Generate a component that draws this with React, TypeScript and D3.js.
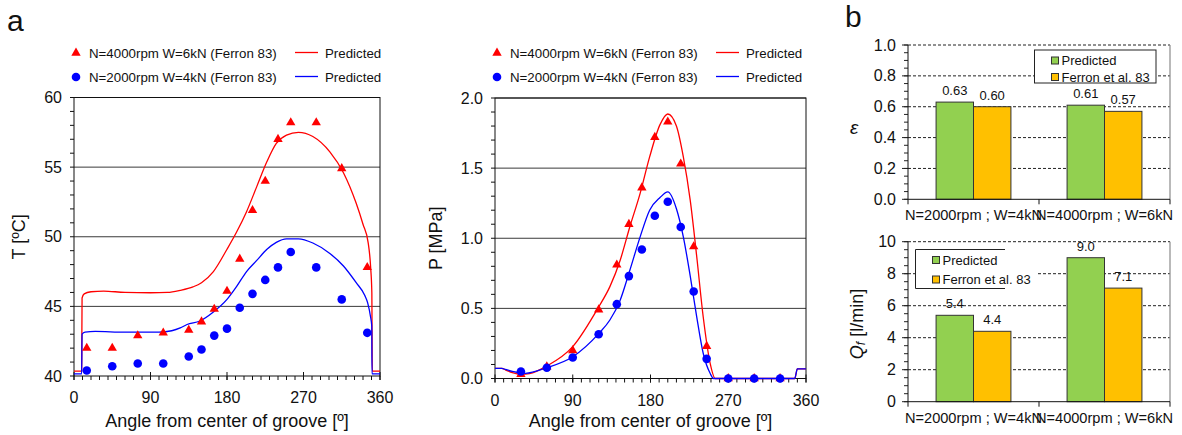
import React from "react";
import * as d3 from "d3";

// ---------- Data: temperature chart ----------
const tAngles = [15, 45, 75, 105, 135, 150, 165, 180, 195, 210, 225, 240, 255, 285, 315, 345];
const tRed = [42.0, 42.0, 42.9, 43.1, 43.3, 43.9, 44.8, 46.1, 48.4, 51.9, 54.0, 57.0, 58.2, 58.2, 54.9, 47.8];
const tBlue = [40.4, 40.7, 40.9, 40.9, 41.4, 41.9, 42.9, 43.4, 44.9, 45.9, 46.9, 47.8, 48.9, 47.8, 45.5, 43.1];

const tPredRedAngle = [0, 9, 9.5, 12, 20, 35, 60, 90, 110, 125, 140, 150, 164, 180, 191, 203, 215, 227, 238, 250, 264, 281, 301, 317, 332, 340, 346, 349, 350.4, 350.9, 360];
const tPredRed = [40.35, 40.35, 45.6, 45.9, 46.05, 46.1, 46.0, 45.98, 46.0, 46.15, 46.4, 46.7, 47.5, 49.1, 50.3, 51.8, 53.6, 55.4, 56.7, 57.3, 57.5, 57.2, 56.1, 54.6, 52.4, 50.9, 49.6, 47.8, 46.0, 40.35, 40.35];

const tPredBlueAngle = [0, 9, 9.5, 13, 25, 60, 100, 115, 125, 133, 148, 164, 180, 191, 203, 215, 227, 238, 250, 264, 281, 301, 317, 332, 342, 345.5, 349, 350.3, 350.6, 360];
const tPredBlue = [40.15, 40.15, 43.0, 43.15, 43.2, 43.15, 43.15, 43.25, 43.45, 43.7, 43.95, 44.6, 45.5, 46.4, 47.5, 48.3, 49.1, 49.6, 49.85, 49.85, 49.55, 48.8, 47.9, 46.7, 45.8, 45.25, 44.2, 43.6, 40.15, 40.15];

// ---------- Data: pressure chart ----------
const pAngles = [30, 60, 90, 120, 141, 155, 170, 185, 200, 215, 230, 245, 270, 300, 330];
const pRed = [0.03, 0.084, 0.2, 0.49, 0.81, 1.1, 1.36, 1.72, 1.83, 1.53, 0.94, 0.23, 0, 0, 0];
const pBlue = [0.05, 0.077, 0.15, 0.315, 0.53, 0.73, 0.92, 1.16, 1.26, 1.08, 0.62, 0.14, 0, 0, 0];

const pPredRedAngle = [0, 8, 12, 20, 30, 40, 60, 90, 120, 133, 145, 156, 168, 179, 191, 200, 210, 218, 226, 233.5, 241, 249, 255, 347, 350, 360];
const pPredRed = [0.072, 0.072, 0.062, 0.042, 0.03, 0.035, 0.089, 0.227, 0.51, 0.655, 0.845, 1.08, 1.32, 1.58, 1.81, 1.886, 1.8, 1.58, 1.27, 0.87, 0.44, 0.11, 0, 0, 0.068, 0.068];

const pPredBlueAngle = [0, 8, 12, 20, 35, 60, 90, 120, 133, 145, 156, 168, 179, 191, 200, 210, 218, 226, 233.5, 241, 249, 253, 347, 350, 360];
const pPredBlue = [0.072, 0.072, 0.065, 0.05, 0.037, 0.077, 0.155, 0.32, 0.417, 0.56, 0.77, 1.01, 1.2, 1.29, 1.33, 1.21, 1.01, 0.73, 0.44, 0.18, 0.037, 0, 0, 0.068, 0.068];

const xTicks = [0, 90, 180, 270, 360];
const tTicks = [40, 45, 50, 55, 60];
const pTicks = [0, 0.5, 1.0, 1.5, 2.0];

// ---------- Data: bar charts ----------
const categories = ["N=2000rpm ; W=4kN", "N=4000rpm ; W=6kN"];
const barSeries = ["Predicted", "Ferron et al. 83"];
const epsPredicted = [0.63, 0.61];
const epsFerron = [0.6, 0.57];
const qPredicted = [5.4, 9.0];
const qFerron = [4.4, 7.1];
const epsTicks = [0, 0.2, 0.4, 0.6, 0.8, 1.0];
const qTicks = [0, 2, 4, 6, 8, 10];

const legendLeft = ["N=4000rpm W=6kN (Ferron 83)", "N=2000rpm W=4kN (Ferron 83)"];

const FONT = "'Liberation Sans', Arial, sans-serif";
const RED = "#ff0000";
const BLUE = "#0000ff";
const GREEN = "#92d050";
const ORANGE = "#ffc000";

function zip(a: number[], b: number[]) {
  return a.map((v, i) => [v, b[i]] as [number, number]);
}

function LinePanel(props: {
  x0: number; x1: number; yTop: number; yBot: number; domain: [number, number];
  ticks: number[]; minorStep: number; fmt: (v: number) => string; yLabel: string; yLabelX: number;
  predRed: [number, number][]; predBlue: [number, number][];
  ptsAngles: number[]; ptsRed: number[]; ptsBlue: number[]; legendX: number;
}) {
  const { x0, x1, yTop, yBot, domain, ticks, minorStep, fmt } = props;
  const x = d3.scaleLinear().domain([0, 360]).range([x0, x1]);
  const y = d3.scaleLinear().domain(domain).range([yBot, yTop]);
  const line = d3.line<[number, number]>().x(d => x(d[0])).y(d => y(d[1])).curve(d3.curveMonotoneX);
  const minorY = d3.range(domain[0], domain[1] + 1e-9, minorStep);
  const minorX = d3.range(0, 361, 10);
  const tri = d3.symbol().type(d3.symbolTriangle).size(38)();
  const lx = props.legendX;
  return (
    <g>
      {ticks.slice(1).map(t => (
        <line key={"g" + t} x1={x0} x2={x1} y1={y(t)} y2={y(t)} stroke="#3a3a3a" strokeWidth={1} />
      ))}
      <rect x={x0} y={yTop} width={x1 - x0} height={yBot - yTop} fill="none" stroke="#111" strokeWidth={1} />
      {minorY.map((t, i) => (
        <line key={"my" + i} x1={x0 - 4} x2={x0} y1={y(t)} y2={y(t)} stroke="#111" />
      ))}
      {minorX.map((t, i) => (
        <line key={"mx" + i} x1={x(t)} x2={x(t)} y1={yBot} y2={yBot + 4} stroke="#111" />
      ))}
      {xTicks.map(t => (
        <line key={"xt" + t} x1={x(t)} x2={x(t)} y1={yBot - 4} y2={yBot + 4} stroke="#111" />
      ))}
      {ticks.map(t => (
        <text key={"yl" + t} x={x0 - 12} y={y(t) + 5.5} textAnchor="end" fontSize={16} fontFamily={FONT} fill="#111">{fmt(t)}</text>
      ))}
      {xTicks.map(t => (
        <text key={"xl" + t} x={x(t)} y={yBot + 27} textAnchor="middle" fontSize={16} fontFamily={FONT} fill="#111">{t}</text>
      ))}
      <text x={(x0 + x1) / 2} y={427} textAnchor="middle" fontSize={18} fontFamily={FONT} fill="#111">Angle from center of groove [º]</text>
      <text transform={`translate(${props.yLabelX},${(yTop + yBot) / 2}) rotate(-90)`} textAnchor="middle" dominantBaseline="central" fontSize={18} fontFamily={FONT} fill="#111">{props.yLabel}</text>
      <path d={line(props.predRed) || ""} fill="none" stroke={RED} strokeWidth={1.3} />
      <path d={line(props.predBlue) || ""} fill="none" stroke={BLUE} strokeWidth={1.3} />
      {props.ptsAngles.map((a, i) => (
        <path key={"r" + i} d={tri || ""} transform={`translate(${x(a)},${y(props.ptsRed[i])})`} fill={RED} />
      ))}
      {props.ptsAngles.map((a, i) => (
        <circle key={"b" + i} cx={x(a)} cy={y(props.ptsBlue[i])} r={4.3} fill={BLUE} />
      ))}
      <path d={tri || ""} transform={`translate(${lx + 2},${53})`} fill={RED} />
      <circle cx={lx + 2} cy={77} r={4.3} fill={BLUE} />
      <text x={lx + 15} y={57.5} fontSize={13.3} fontFamily={FONT} fill="#111">{legendLeft[0]}</text>
      <text x={lx + 15} y={81.5} fontSize={13.3} fontFamily={FONT} fill="#111">{legendLeft[1]}</text>
      <line x1={lx + 221} x2={lx + 244} y1={52.5} y2={52.5} stroke={RED} strokeWidth={1.3} />
      <line x1={lx + 221} x2={lx + 244} y1={76.5} y2={76.5} stroke={BLUE} strokeWidth={1.3} />
      <text x={lx + 251} y={57.5} fontSize={13.3} fontFamily={FONT} fill="#111">Predicted</text>
      <text x={lx + 251} y={81.5} fontSize={13.3} fontFamily={FONT} fill="#111">Predicted</text>
    </g>
  );
}

function BarPanel(props: {
  yTop: number; yBot: number; max: number; ticks: number[]; minorStep: number; fmt: (v: number) => string;
  pred: number[]; ferron: number[]; labelFmt: (v: number) => string;
  legend: { x: number; y: number; w: number; h: number; edge: number; full: boolean };
  yLabel: React.ReactNode;
}) {
  const x0 = 908, x1 = 1170;
  const { yTop, yBot } = props;
  const xb = d3.scaleBand<string>().domain(categories).range([x0, x1]).padding(0);
  const xs = d3.scaleBand<string>().domain(barSeries).range([0, xb.bandwidth()]).paddingInner(0).paddingOuter(0.75);
  const y = d3.scaleLinear().domain([0, props.max]).range([yBot, yTop]);
  const minor = d3.range(0, props.max + 1e-9, props.minorStep);
  const vals = [props.pred, props.ferron];
  const colors = [GREEN, ORANGE];
  const lg = props.legend;
  return (
    <g>
      {props.ticks.slice(1).map(t => (
        <line key={"g" + t} x1={x0} x2={x1} y1={y(t)} y2={y(t)} stroke="#222" strokeDasharray="3,2" strokeWidth={1} />
      ))}
      <line x1={x1} x2={x1} y1={yTop} y2={yBot} stroke="#8a8a8a" strokeWidth={1.2} />
      {minor.map((t, i) => (
        <line key={"m" + i} x1={x0 - 4} x2={x0} y1={y(t)} y2={y(t)} stroke="#222" />
      ))}
      {props.ticks.map(t => (
        <line key={"t" + t} x1={x0 - 6} x2={x0} y1={y(t)} y2={y(t)} stroke="#222" />
      ))}
      {props.ticks.map(t => (
        <text key={"l" + t} x={x0 - 12} y={y(t) + 5.5} textAnchor="end" fontSize={16} fontFamily={FONT} fill="#111">{props.fmt(t)}</text>
      ))}
      {barSeries.map((s, si) =>
        categories.map((c, ci) => (
          <rect key={s + c} x={(xb(c) || 0) + (xs(s) || 0)} y={y(vals[si][ci])} width={xs.bandwidth()} height={yBot - y(vals[si][ci])}
            fill={colors[si]} stroke="#333" strokeWidth={1} />
        ))
      )}
      {barSeries.map((s, si) =>
        categories.map((c, ci) => (
          <text key={"v" + s + c} x={(xb(c) || 0) + (xs(s) || 0) + xs.bandwidth() / 2} y={y(vals[si][ci]) - 7}
            textAnchor="middle" fontSize={13} fontFamily={FONT} fill="#111">{props.labelFmt(vals[si][ci])}</text>
        ))
      )}
      <line x1={x0} x2={x0} y1={yTop} y2={yBot} stroke="#111" />
      <line x1={x0} x2={x1} y1={yBot} y2={yBot} stroke="#111" />
      {[x0, (xb(categories[1]) || 0), x1].map((v, i) => (
        <line key={"xt" + i} x1={v} x2={v} y1={yBot} y2={yBot + 5} stroke="#111" />
      ))}
      {categories.map(c => (
        <text key={"c" + c} x={(xb(c) || 0) + xb.bandwidth() / 2} y={yBot + 21} textAnchor="middle" fontSize={14.6} fontFamily={FONT} fill="#111">{c}</text>
      ))}
      {lg.full ? (
        <rect x={lg.x} y={lg.y} width={lg.w} height={lg.h} fill="#fff" stroke="#222" strokeWidth={1} />
      ) : (
        <g>
          <rect x={lg.x} y={lg.y} width={lg.w} height={lg.h} fill="#fff" />
          <line x1={lg.x} x2={lg.edge} y1={lg.y} y2={lg.y} stroke="#222" />
          <line x1={lg.x} x2={lg.x} y1={lg.y} y2={lg.y + lg.h} stroke="#222" />
          <line x1={lg.x} x2={lg.edge} y1={lg.y + lg.h} y2={lg.y + lg.h} stroke="#222" />
        </g>
      )}
      {barSeries.map((s, si) => (
        <g key={"lg" + s}>
          <rect x={lg.x + 17} y={lg.y + 7 + si * (lg.h / 2)} width={7} height={7} fill={colors[si]} stroke="#333" />
          <text x={lg.x + 27} y={lg.y + 15 + si * (lg.h / 2)} fontSize={13} fontFamily={FONT} fill="#111">{s}</text>
        </g>
      ))}
      {props.yLabel}
    </g>
  );
}

export default function App() {
  return (
    <svg width={1182} height={435} style={{ position: "absolute", left: 0, top: 0, background: "#fff" }}>
      <rect width={1182} height={435} fill="#fff" />
      <text x={7} y={31} fontSize={30} fontFamily={FONT} fill="#111">a</text>
      <text x={845} y={27} fontSize={30} fontFamily={FONT} fill="#111">b</text>
      <LinePanel x0={74} x1={380} yTop={97.5} yBot={376} domain={[40, 60]} ticks={tTicks} minorStep={1}
        fmt={v => String(v)} yLabel="T [ºC]" yLabelX={19}
        predRed={zip(tPredRedAngle, tPredRed)} predBlue={zip(tPredBlueAngle, tPredBlue)}
        ptsAngles={tAngles} ptsRed={tRed} ptsBlue={tBlue} legendX={74} />
      <LinePanel x0={495} x1={806} yTop={98} yBot={378.5} domain={[0, 2]} ticks={pTicks} minorStep={0.1}
        fmt={v => v.toFixed(1)} yLabel="P [MPa]" yLabelX={436}
        predRed={zip(pPredRedAngle, pPredRed)} predBlue={zip(pPredBlueAngle, pPredBlue)}
        ptsAngles={pAngles} ptsRed={pRed} ptsBlue={pBlue} legendX={495} />
      <BarPanel yTop={45} yBot={199.3} max={1} ticks={epsTicks} minorStep={0.05} fmt={v => v.toFixed(1)}
        pred={epsPredicted} ferron={epsFerron} labelFmt={v => v.toFixed(2)}
        legend={{ x: 1034.5, y: 50, w: 121.5, h: 33, edge: 1156, full: true }}
        yLabel={<text x={850} y={134} fontSize={19} fontStyle="italic" fontFamily={FONT} fill="#111">ε</text>} />
      <BarPanel yTop={241.7} yBot={401.7} max={10} ticks={qTicks} minorStep={0.5} fmt={v => String(v)}
        pred={qPredicted} ferron={qFerron} labelFmt={v => v.toFixed(1)}
        legend={{ x: 915.5, y: 249.5, w: 121.5, h: 39, edge: 1005, full: false }}
        yLabel={<text transform="translate(857,324) rotate(-90)" textAnchor="middle" dominantBaseline="central" fontSize={18} fontFamily={FONT} fill="#111"><tspan fontStyle="italic">Q</tspan><tspan fontStyle="italic" fontSize={12} dy={4}>f</tspan><tspan dy={-4}> [l/min]</tspan></text>} />
    </svg>
  );
}
